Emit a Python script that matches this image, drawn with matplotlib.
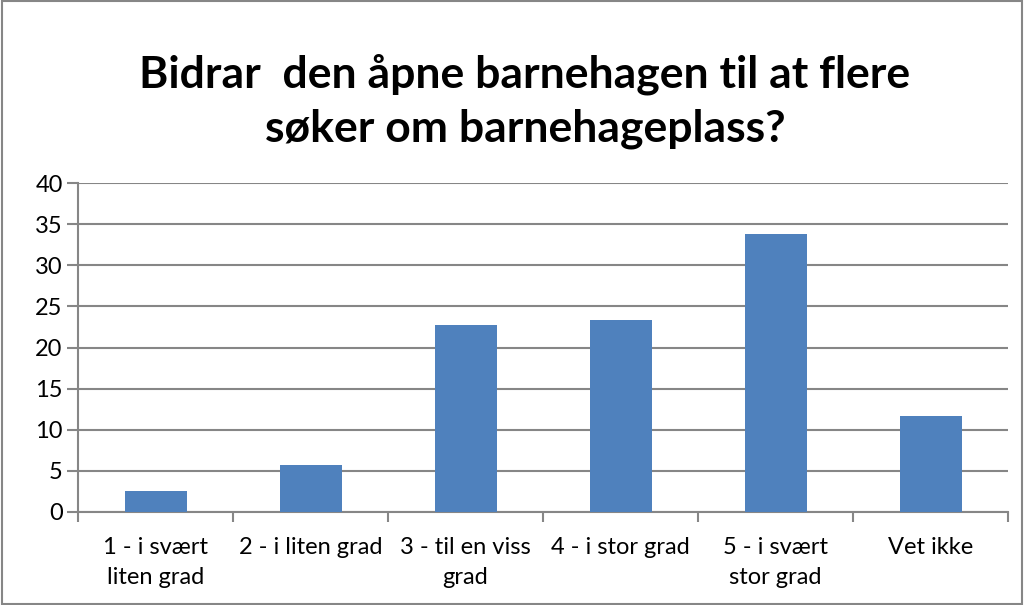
import matplotlib
matplotlib.use("Agg")
import matplotlib.pyplot as plt
from matplotlib.patches import Rectangle
import numpy as np

categories = ["1 - i svært\nliten grad", "2 - i liten grad", "3 - til en viss\ngrad",
              "4 - i stor grad", "5 - i svært\nstor grad", "Vet ikke"]
values = [2.5, 5.7, 22.7, 23.4, 33.8, 11.7]
title = "Bidrar  den åpne barnehagen til at flere\nsøker om barnehageplass?"

plt.rcParams['font.family'] = ['Lato', 'DejaVu Sans']
fig = plt.figure(figsize=(10.24, 6.05), dpi=100)
ax = fig.add_axes([78/1024, 1-512/605, (1008-78)/1024, (512-183)/605])

x = np.arange(len(categories))
ax.bar(x, values, width=0.4, color='#4F81BD', zorder=3)
ax.set_xlim(-0.5, len(categories)-0.5)
ax.set_ylim(0, 40)
ax.set_yticks(np.arange(0, 41, 5))
ax.yaxis.grid(True, color='#868686', linewidth=1.5, zorder=0)
ax.set_xticks(np.arange(-0.5, len(categories), 1.0))
ax.set_xticklabels([])
ax.set_xticks(x, minor=True)
ax.set_xticklabels(categories, minor=True, fontsize=17, linespacing=1.5)
ax.tick_params(axis='x', which='minor', length=0, pad=18)
ax.tick_params(axis='x', which='major', length=7, width=1.5, color='#868686')
ax.tick_params(axis='y', length=8, width=1.5, color='#868686', labelsize=17, pad=3)
for s in ['top', 'right']:
    ax.spines[s].set_visible(False)
for s in ['left', 'bottom']:
    ax.spines[s].set_color('#868686')
    ax.spines[s].set_linewidth(1.5)

fig.text(525/1024, 1-101/605, title, ha='center', va='center', fontsize=32,
         fontweight='bold', linespacing=1.4)
fig.patches.append(Rectangle((0.002, 0.002), 0.996, 0.996, transform=fig.transFigure,
                             fill=False, edgecolor='#868686', linewidth=1.5))
fig.savefig("out.png", dpi=100)
